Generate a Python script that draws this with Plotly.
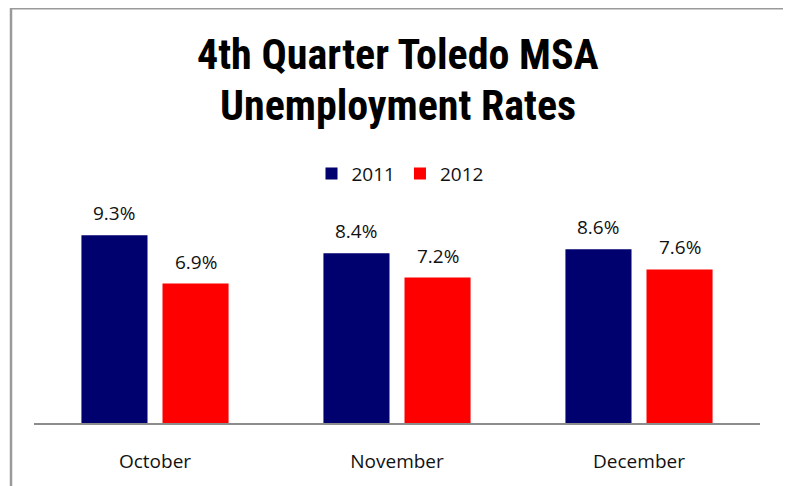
import plotly.graph_objects as go

months = ["October", "November", "December"]
years = ["2011", "2012"]
rate_2011 = [9.3, 8.4, 8.6]
rate_2012 = [6.9, 7.2, 7.6]
title_lines = ["4th Quarter Toledo MSA", "Unemployment Rates"]

colors = {"2011": "#00006E", "2012": "#FF0000"}
series = {"2011": rate_2011, "2012": rate_2012}

OFF = 8  # page body margin
W, H = 791 - OFF, 486 - OFF
ml, mr, mt, mb = 34 - OFF, 31, 221 - OFF, 60
pw = W - ml - mr
ph = H - mt - mb

fig = go.Figure()
for yr in years:
    fig.add_trace(go.Bar(
        x=months, y=series[yr], name=yr,
        marker=dict(color=colors[yr], line=dict(width=0)),
        hoverinfo="skip",
    ))

slot = pw / 3 * (1 - 0.33) / 2
annotations = []
for i, yr in enumerate(years):
    shift = (i - 0.5) * slot
    for m, v in zip(months, series[yr]):
        annotations.append(dict(
            x=m, y=v, xref="x", yref="y", text=f"{v:.1f}%", showarrow=False,
            xshift=shift, yshift=7, yanchor="bottom", xanchor="center",
            font=dict(family="Open Sans", size=19, color="#111111"),
        ))

def py(pix):
    return (H - mb - (pix - OFF)) / ph

def px(pix):
    return ((pix - OFF) - ml) / pw

for line, ypix in zip(title_lines, [52, 104]):
    annotations.append(dict(
        x=px(398), y=py(ypix), xref="paper", yref="paper", text=f"<b>{line}</b>",
        showarrow=False, xanchor="center", yanchor="middle",
        font=dict(family="Liberation Sans Narrow, Roboto Condensed, Roboto", size=42, color="#000000"),
    ))

fig.update_layout(
    width=W, height=H,
    margin=dict(l=ml, r=mr, t=mt, b=mb, pad=0),
    paper_bgcolor="white", plot_bgcolor="white",
    barmode="group", bargap=0.33, bargroupgap=0.185,
    showlegend=True,
    legend=dict(orientation="h", x=px(400), xanchor="center", y=py(173), yanchor="middle",
                font=dict(family="Open Sans", size=19, color="#111111"),
                itemwidth=30, bgcolor="rgba(0,0,0,0)"),
    xaxis=dict(showline=True, linecolor="#8C8C8C", linewidth=1.5,
               ticks="outside", ticklen=20, tickcolor="rgba(0,0,0,0)",
               tickfont=dict(family="Open Sans", size=19, color="#111111"),
               showgrid=False, zeroline=False, fixedrange=True),
    yaxis=dict(range=[0, 10], visible=False, showgrid=False, zeroline=False, fixedrange=True),
    annotations=annotations,
    shapes=[dict(type="path", xref="paper", yref="paper",
                 path=f"M {px(11)} {py(520)} L {px(11)} {py(5)} L {px(785)} {py(5)} L {px(785)} {py(520)}",
                 line=dict(color="#9A9A9A", width=2.5))],
)

fig.write_html("out.html")
